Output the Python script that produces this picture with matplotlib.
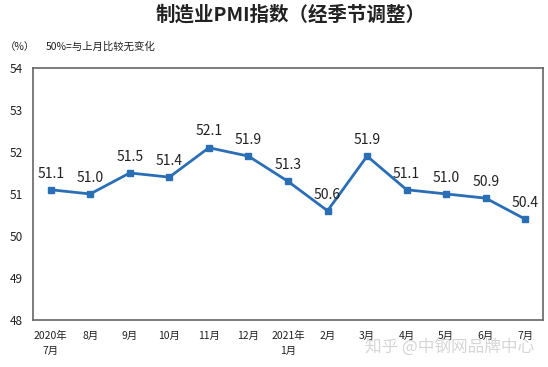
import matplotlib.pyplot as plt

plt.rcParams['font.family'] = ['Noto Sans CJK SC', 'DejaVu Sans']

months = ['2020年\n7月', '8月', '9月', '10月', '11月', '12月', '2021年\n1月',
          '2月', '3月', '4月', '5月', '6月', '7月']
pmi = [51.1, 51.0, 51.5, 51.4, 52.1, 51.9, 51.3, 50.6, 51.9, 51.1, 51.0, 50.9, 50.4]
yticks = [48, 49, 50, 51, 52, 53, 54]

fig = plt.figure(figsize=(5.48, 3.67), dpi=100)
ax = fig.add_axes([0.060, 0.128, 0.931, 0.687])

x = list(range(len(months)))
ax.plot(x, pmi, color='#2a6fb5', lw=2, marker='s', ms=4.5)
for xi, v in zip(x, pmi):
    ax.text(xi, v + 0.22, f'{v:.1f}', ha='center', va='bottom', fontsize=10, color='#222222')

ax.set_xlim(-0.45, len(months) - 0.55)
ax.set_ylim(48, 54)
ax.set_yticks(yticks)
ax.set_xticks(x)
ax.set_xticklabels(months, fontsize=7.5, va='top', linespacing=1.6)
ax.tick_params(axis='both', length=0, colors='#222222')
ax.tick_params(axis='y', labelsize=8.5, pad=7)
ax.tick_params(axis='x', pad=8)
for s in ax.spines.values():
    s.set_color('#666666')
    s.set_linewidth(1.2)

fig.text(0.53, 0.96, '制造业PMI指数（经季节调整）', ha='center', va='center',
         fontsize=14, fontweight='bold', color='#222222')
fig.text(0.008, 0.872, '（%）', fontsize=7.5, va='center', color='#222222')
fig.text(0.083, 0.872, '50%=与上月比较无变化', fontsize=7.5, va='center', color='#222222')
fig.text(0.975, 0.055, '知乎 @中钢网品牌中心', ha='right', va='center', fontsize=12,
         color='#cccccc', alpha=0.8)

fig.savefig('out.png', dpi=100)
